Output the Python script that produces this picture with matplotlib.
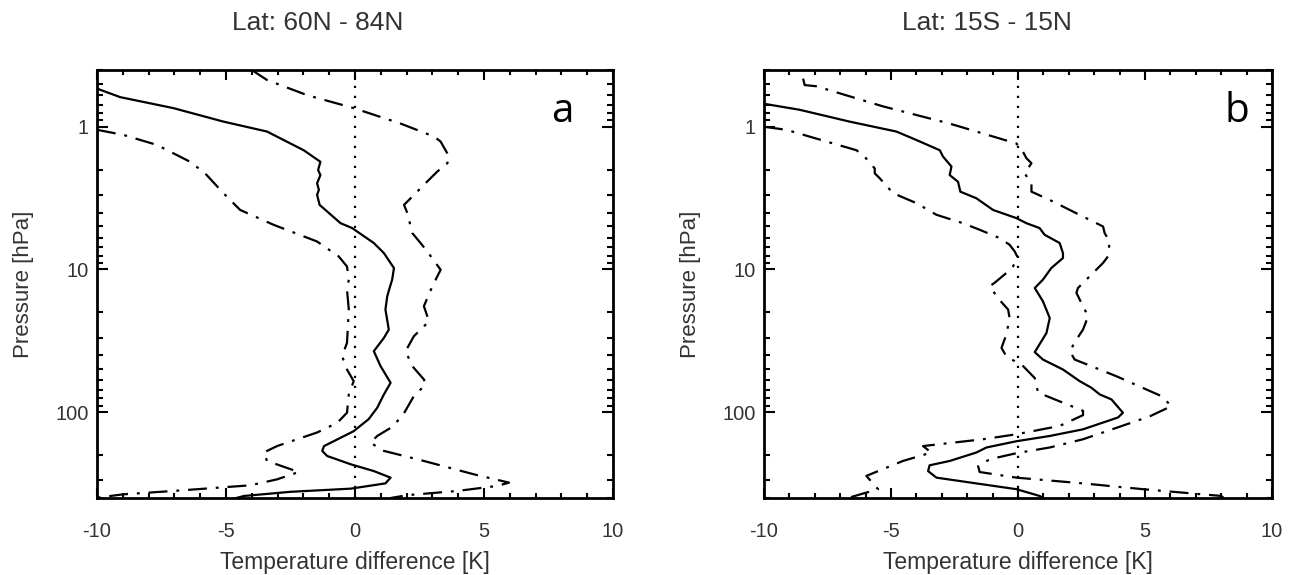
import numpy as np
import matplotlib
matplotlib.use("Agg")
import matplotlib.pyplot as plt
from matplotlib.ticker import MultipleLocator, LogLocator, FixedLocator, NullFormatter

# --- Панель a: Lat 60N - 84N ---
p_a_mean = [0.54, 0.62, 0.74, 0.92, 1.08, 1.46, 1.76, 2.01, 2.18, 2.49, 2.77, 3.0, 3.53, 4.74, 5.13,
            6.53, 7.68, 9.78, 11.8, 13.9, 15.4, 19.1, 26.4, 30.2, 37.4, 47.6, 62.3, 75.2, 93.3, 112,
            136, 173, 187, 203, 232, 259, 288, 316, 344, 362, 387, 400]
t_a_mean = [-10.0, -9.1, -7.04, -5.1, -3.41, -1.99, -1.34, -1.43, -1.34, -1.47, -1.4, -1.47, -1.37, -0.56, -0.11,
            0.73, 1.12, 1.51, 1.44, 1.32, 1.25, 1.18, 1.31, 1.12, 0.73, 0.99, 1.38, 1.12, 0.86, 0.53,
            -0.05, -1.2, -1.27, -1.08, -0.17, 0.73, 1.38, 1.18, -0.17, -2.5, -4.3, -4.6]

p_a_low = [1.05, 1.14, 1.34, 1.76, 2.12, 2.92, 3.83, 4.87, 6.37, 8.11, 9.53, 11.8, 13.9, 19.1, 32.7,
           40.6, 50.3, 60.7, 75, 101, 119, 139, 173, 192, 220, 263, 296, 326, 357, 377, 398]
t_a_low = [-10.0, -8.98, -7.68, -6.39, -5.81, -5.1, -4.45, -3.15, -1.47, -0.63, -0.31, -0.24, -0.31, -0.24, -0.31,
           -0.5, -0.31, -0.05, -0.24, -0.31, -0.69, -1.47, -3.02, -3.54, -3.41, -2.18, -3.02, -4.06, -7.04, -8.98, -10.0]

p_a_high = [0.40, 0.47, 0.6, 0.74, 0.95, 1.17, 1.27, 1.62, 1.8, 2.06, 2.42, 3.53, 4.03, 5.56, 6.53,
            7.48, 10.05, 13.1, 18.1, 23.1, 29.4, 37.4, 47.6, 59, 64, 77.3, 107, 129, 147, 164,
            187, 220, 273, 312, 329, 357, 382, 400]
t_a_high = [-4.0, -3.41, -1.86, -0.05, 1.77, 3.06, 3.32, 3.65, 3.58, 3.19, 2.8, 1.9, 2.03, 2.22, 2.54,
            2.8, 3.32, 3.0, 2.67, 2.87, 2.28, 1.96, 2.22, 2.67, 2.74, 2.28, 1.83, 1.38, 0.86, 0.6,
            1.12, 2.67, 4.61, 5.97, 5.52, 3.97, 2.03, 1.38]

# --- Панель b: Lat 15S - 15N ---
p_b_mean = [0.69, 0.76, 0.92, 1.08, 1.21, 1.46, 1.62, 1.9, 2.18, 2.43, 2.85, 3.17, 3.83, 4.37, 4.74,
            5.13, 5.72, 6.53, 7.68, 8.32, 9.78, 11.8, 13.5, 16.7, 21.9, 27.9, 38, 42.8, 50.3, 60.7,
            67.5, 75.2, 81.5, 101, 109, 132, 147, 160, 177, 192, 220, 236, 259, 288, 321, 347, 387, 400]
t_b_mean = [-10.0, -8.6, -6.63, -4.79, -4.13, -3.08, -2.95, -2.62, -2.69, -2.36, -2.27, -1.64, -0.98, -0.06, 0.33,
            0.85, 1.05, 1.64, 1.77, 1.77, 1.31, 0.98, 0.66, 0.98, 1.25, 1.12, 0.66, 0.98, 1.77, 2.43,
            2.89, 3.22, 3.68, 4.13, 3.94, 2.56, 1.25, -0.06, -1.24, -1.64, -2.69, -3.48, -3.54, -3.21, -1.38, -0.06, 0.85, 1.0]

p_b_low = [1.0, 1.05, 1.21, 1.46, 1.62, 1.96, 2.12, 2.3, 2.92, 3.43, 4.14, 4.74, 5.27, 6.03, 6.72,
           7.48, 8.32, 9.53, 10.6, 12.4, 13.1, 15.9, 19.1, 21.9, 28.6, 35.5, 40.6, 47.6, 57.7, 73,
           98, 105, 125, 143, 155, 173, 192, 220, 280, 347, 400]
t_b_low = [-10.0, -9.12, -7.94, -6.36, -6.04, -5.64, -5.64, -5.44, -4.92, -4.0, -3.21, -2.17, -1.51, -0.72, -0.33,
           -0.13, 0.0, -0.2, -0.46, -0.92, -1.11, -0.79, -0.39, -0.33, -0.46, -0.65, -0.46, 0.2, 0.66, 0.79,
           2.56, 2.56, 1.64, -0.06, -1.38, -3.74, -3.41, -4.53, -5.97, -5.51, -6.7]

p_b_high = [0.46, 0.51, 0.52, 0.72, 0.95, 1.31, 1.5, 1.66, 1.8, 2.12, 2.49, 2.85, 3.26, 4.26, 5.0,
            5.56, 6.37, 8.11, 9.0, 10.6, 13.5, 14.6, 18.1, 21.3, 26.4, 31, 37.4, 42.8, 56, 77.3,
            90.8, 107, 129, 155, 177, 194, 214, 239, 263, 288, 316, 347, 387, 400]
t_b_high = [-8.46, -8.4, -7.94, -5.31, -2.69, -0.06, 0.2, 0.33, 0.53, 0.26, 0.53, 0.53, 1.25, 2.56, 3.35,
            3.41, 3.61, 3.54, 3.35, 2.95, 2.36, 2.3, 2.56, 2.76, 2.56, 2.3, 2.04, 2.23, 3.87, 5.65,
            6.04, 5.19, 3.87, 2.56, 1.25, -0.06, -1.11, -1.57, -1.51, -0.06, 2.56, 4.92, 8.0, 8.1]

titles = ["Lat: 60N - 84N", "Lat: 15S - 15N"]
letters = ["a", "b"]
xlabel = "Temperature difference [K]"
ylabel = "Pressure [hPa]"

plt.rcParams['font.family'] = ['Liberation Sans', 'DejaVu Sans']
plt.rcParams['axes.unicode_minus'] = False
text_color = '#333333'

fig = plt.figure(figsize=(12.93, 5.75), dpi=100)
ax_a = fig.add_axes([97 / 1293, 1 - 498 / 575, 516 / 1293, 428 / 575])
ax_b = fig.add_axes([764 / 1293, 1 - 498 / 575, 508 / 1293, 428 / 575])

dashdot = (0, (8.5, 4, 1.3, 4))
letter_x = [0.901, 0.931]
title_x = [0.427, 0.438]  # заголовки чуть левее центра осей
panels = [
    (ax_a, t_a_mean, p_a_mean, t_a_low, p_a_low, t_a_high, p_a_high),
    (ax_b, t_b_mean, p_b_mean, t_b_low, p_b_low, t_b_high, p_b_high),
]

for i, (ax, tm, pm, tl, pl, th, ph) in enumerate(panels):
    # нулевая линия
    ax.axvline(0, color='black', lw=1.6, linestyle=(0, (1, 3.5)))
    ax.plot(tm, pm, color='black', lw=1.6)
    ax.plot(tl, pl, color='black', lw=1.6, linestyle=dashdot)
    ax.plot(th, ph, color='black', lw=1.6, linestyle=dashdot)

    ax.set_yscale('log')
    ax.set_xlim(-10, 10)
    ax.set_ylim(400, 0.4)

    ax.xaxis.set_major_locator(MultipleLocator(5))
    ax.xaxis.set_minor_locator(MultipleLocator(1))
    ax.yaxis.set_major_locator(FixedLocator([1, 10, 100]))
    ax.yaxis.set_major_formatter(plt.FixedFormatter(['1', '10', '100']))
    ax.yaxis.set_minor_locator(LogLocator(base=10, subs=np.arange(2, 10)))
    ax.yaxis.set_minor_formatter(NullFormatter())

    ax.tick_params(which='both', direction='in', top=True, right=True, width=1.5, colors='black',
                   labelcolor=text_color, labelsize=14.5)
    ax.tick_params(axis='x', which='major', length=7, pad=17)
    ax.tick_params(axis='x', which='minor', length=3.5)
    ax.tick_params(axis='y', which='major', length=8, pad=6)
    ax.tick_params(axis='y', which='minor', length=4)
    for s in ax.spines.values():
        s.set_linewidth(2)

    ax.set_title(titles[i], fontsize=19, color=text_color, pad=29, x=title_x[i])
    ax.set_xlabel(xlabel, fontsize=16.5, color=text_color, labelpad=7.5)
    ax.set_ylabel(ylabel, fontsize=16, color=text_color, labelpad=15)
    ax.text(letter_x[i], 0.878, letters[i], transform=ax.transAxes, fontsize=29, family='Open Sans',
            ha='center', va='baseline', color='black')

fig.savefig('out.png', dpi=100)
